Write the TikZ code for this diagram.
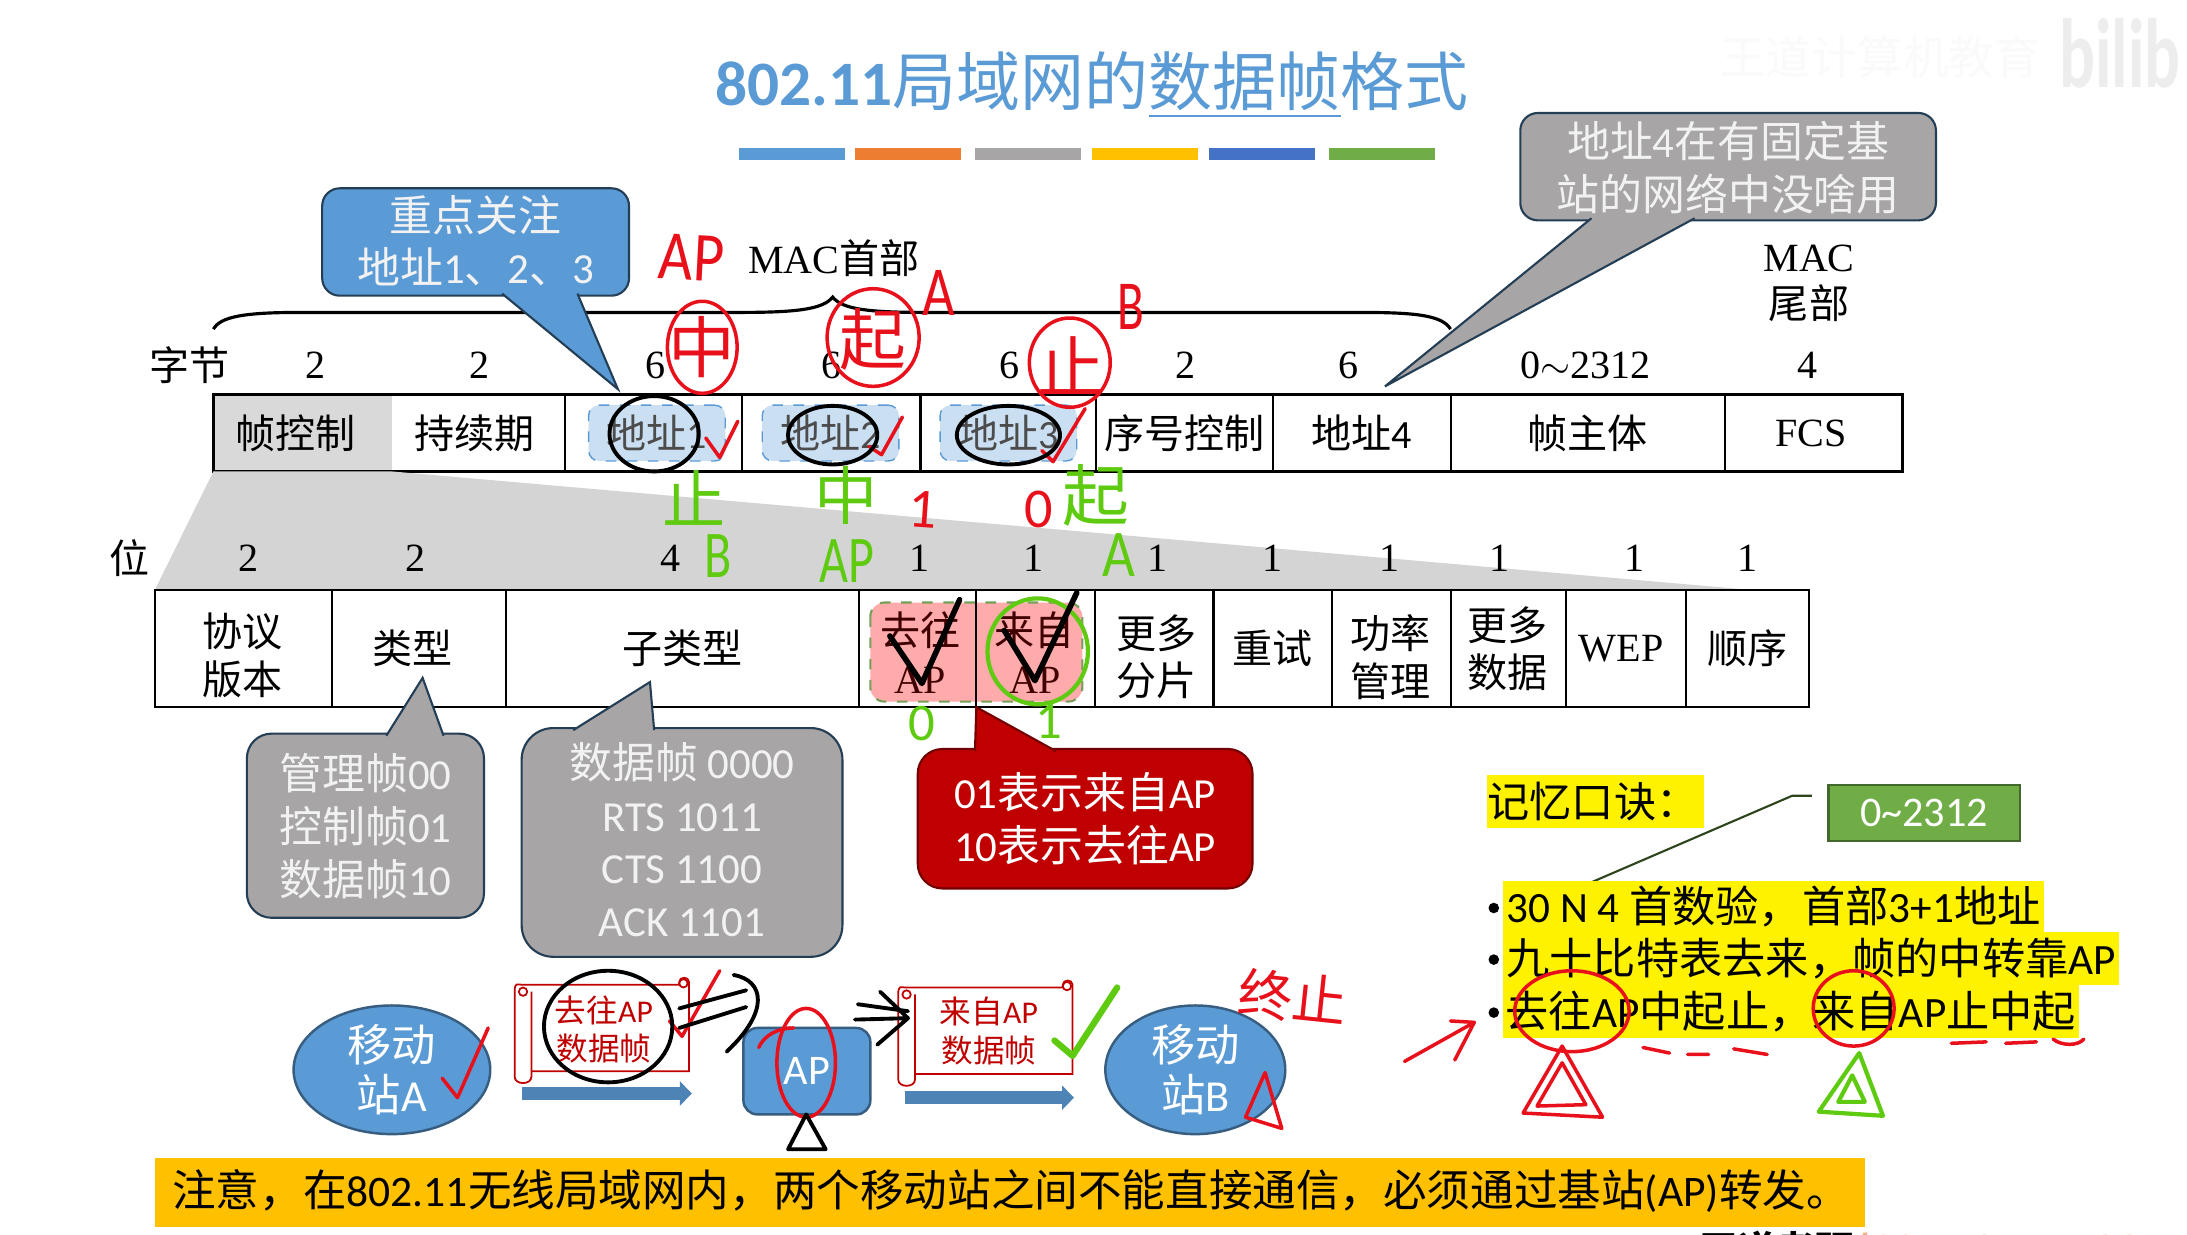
\documentclass[tikz,border=0pt]{standalone}
\usepackage{fontspec}
\setmainfont{Noto Sans CJK SC}
\newfontfamily\tnrfont{Liberation Serif}
\newfontfamily\cbrfont{Carlito}
\newcommand{\tnr}[1]{{\tnrfont #1}}
\newcommand{\cbr}[1]{{\cbrfont #1}}
\newcommand{\fsz}[1]{\fontsize{#1}{#1}\selectfont}
\usetikzlibrary{arrows.meta, shapes.geometric}
\definecolor{ppblue}{HTML}{5B9BD5}
\definecolor{pporange}{HTML}{ED7D31}
\definecolor{ppgray}{HTML}{A7A5A6}
\definecolor{ppgold}{HTML}{FFC000}
\definecolor{ppdeep}{HTML}{4472C4}
\definecolor{ppgreen}{HTML}{70AD47}
\definecolor{ppred}{HTML}{C00000}
\definecolor{hwred}{HTML}{E8111B}
\definecolor{hwgreen}{HTML}{5FCB10}
\newcommand{\ux}{0.01395cm}
\begin{document}
\begin{tikzpicture}[x=0.01395cm, y=-0.01395cm,
    fieldcell/.style={draw, line width=0.6pt, inner sep=0pt, outer sep=0pt, align=center, minimum height=55*\ux, font=\fontsize{11.4}{13.5}\selectfont},
    bitcell/.style={fieldcell, minimum height=84*\ux},
    celltext/.style={inner sep=0pt, align=center, font=\fontsize{11.4}{13.5}\selectfont},
    numlabel/.style={inner sep=0pt, font=\fontsize{11.4}{13}\selectfont\tnrfont},
    addrbox/.style={draw=ppblue, dashed, fill=ppblue!32, rounded corners=3pt, minimum width=98*\ux, minimum height=40*\ux, inner sep=0pt, font=\fontsize{11.4}{13}\selectfont, text=black!70},
    callbody/.style={draw=black!60!ppblue, line width=0.6pt, fill=ppgray, inner sep=0pt},
    calltail/.style={draw=black!60!ppblue, line width=0.6pt, fill=ppgray},
    calltext/.style={inner sep=0pt, align=center, text=white!95!black, font=\fontsize{12.2}{15}\selectfont},
    barstrip/.style={minimum width=76*\ux, minimum height=9*\ux, inner sep=0pt},
    stationnode/.style={ellipse, draw=black!40!ppblue, fill=ppblue, line width=0.7pt, align=center, text=white, inner sep=0pt, font=\fontsize{12.6}{14.3}\selectfont},
    scrolltext/.style={inner sep=0pt, align=center, text=ppred, font=\fontsize{9}{11}\selectfont},
    yellowbar/.style={fill=yellow, inner sep=0pt, anchor=west, font=\fontsize{12.3}{14}\selectfont},
    flowarrow/.style={draw=ppblue!85!black, line width=3.6pt, -{Triangle[length=3.4pt,width=6.8pt]}},
    handred/.style={draw=hwred, line width=1pt, line cap=round, line join=round},
    handgreen/.style={draw=hwgreen, line width=1.2pt, line cap=round, line join=round},
    handblack/.style={draw=black, line width=1.1pt, line cap=round, line join=round},
    hwtext/.style={inner sep=0pt, font=\fontsize{#1}{#1}\selectfont},
    scrollbox/.pic={
        \draw[draw=ppred, line width=0.5pt, fill=white] (6,7) -- (119,7) -- (119,5) .. controls (119,1) and (126,1) .. (126,5) -- (126,69) -- (13,69) -- (13,73) .. controls (13,79) and (1,79) .. (1,73) -- (1,12) .. controls (1,5) and (3,7) .. (6,7) -- cycle;
        \draw[draw=ppred, line width=0.5pt] (13,12) -- (13,69) (7,12) circle [radius=3] (122,6) circle [radius=3];
    }]

    \clip (0,0) rectangle (1568,885);
    \fill[white] (0,0) rectangle (1568,885);

    % 水印
    \node[inner sep=0pt, text=black!2, font=\fontsize{13}{13}\selectfont] (stamp) at (1348,41) {王道计算机教育};
    \node[inner sep=0pt, anchor=west, text=black!7, font=\fontsize{28}{28}\selectfont\bfseries\cbrfont, xscale=0.68, transform shape] (bililogo) at (1476,38) {bilib};

    % 标题
    \node[inner sep=0pt, text=ppblue, font=\fontsize{18.2}{20}\selectfont] (title) at (783,61) {{\cbrfont\bfseries\fsz{18}802.11}局域网的\underline{数据帧}格式};

    % 色条
    \node[barstrip, fill=ppblue] (strip1) at (568,110.5) {};
    \node[barstrip, fill=pporange] (strip2) at (651,110.5) {};
    \node[barstrip, fill=ppgray] (strip3) at (737,110.5) {};
    \node[barstrip, fill=ppgold] (strip4) at (821,110.5) {};
    \node[barstrip, fill=ppdeep] (strip5) at (905,110.5) {};
    \node[barstrip, fill=ppgreen] (strip6) at (991,110.5) {};

    % 第一行字段
    \node[fieldcell, draw=none, fill=black!15, minimum width=128*\ux] (fc) at (217,310.5) {帧控制\hspace*{4pt}};
    \node[fieldcell, draw=none, minimum width=124*\ux] (dur) at (343,310.5) {持续期\hspace*{2.4pt}};
    \node[fieldcell, minimum width=127*\ux] (addr1) at (468.5,310.5) {};
    \node[fieldcell, minimum width=128*\ux] (addr2) at (596,310.5) {};
    \node[fieldcell, minimum width=126*\ux] (addr3) at (723,310.5) {};
    \node[fieldcell, minimum width=127*\ux] (seq) at (849.5,310.5) {序号控制};
    \node[fieldcell, minimum width=127*\ux] (addr4) at (976.5,310.5) {地址\cbr{4}};
    \node[fieldcell, minimum width=197*\ux] (body) at (1138.5,310.5) {帧主体};
    \node[fieldcell, minimum width=127*\ux] (fcs) at (1300.5,310.5) {\hspace*{-1.5pt}\tnr{FCS}};
    \draw[line width=0.8pt] (fc.north west) rectangle (fcs.south east);
    \node[addrbox] (tag1) at (471,310.5) {地址\cbr{1}};
    \node[addrbox] (tag2) at (595.5,310.5) {地址\cbr{2}};
    \node[addrbox] (tag3) at (723,310.5) {地址\cbr{3}};

    % 字节数
    \node[inner sep=0pt, font=\fontsize{11.4}{13}\selectfont] (bytes) at (136,262) {字节};
    \node[numlabel] (b1) at (226,262) {2};
    \node[numlabel] (b2) at (344,262) {2};
    \node[numlabel] (b3) at (470,262) {6};
    \node[numlabel] (b4) at (596,262) {6};
    \node[numlabel] (b5) at (724,262) {6};
    \node[numlabel] (b6) at (850,262) {2};
    \node[numlabel] (b7) at (967,262) {6};
    \node[numlabel] (b8) at (1137,262) {0$\sim$2312};
    \node[numlabel] (b9) at (1296,262) {4};

    % 大括号
    \node[celltext] (machead) at (598,185) {\tnr{MAC}首部};
    \node[celltext] (mactail) at (1297,203) {\tnr{MAC}\\尾部};
    \draw[line width=0.9pt] (153,236) .. controls (158,227) and (175,224) .. (215,224) -- (530,224) .. controls (570,224) and (590,222) .. (597,213) .. controls (604,222) and (624,224) .. (664,224) -- (975,224) .. controls (1015,224) and (1034,226) .. (1040,236);

    % 第二行字段
    \coordinate (wedgeend) at (1256,423);
    \fill[black!17] (fc.south west) -- (fc.south east) -- (wedgeend) -- (111,423) -- cycle;
    \node[bitcell, minimum width=127*\ux] (ver) at (174.5,465) {};
    \node[bitcell, minimum width=125*\ux] (ftype) at (300.5,465) {类型\hspace*{4pt}};
    \node[bitcell, minimum width=253*\ux] (subtype) at (489.5,465) {子类型};
    \node[bitcell, minimum width=84*\ux] (toap) at (658,465) {};
    \node[bitcell, minimum width=85*\ux] (fromap) at (742.5,465) {};
    \node[bitcell, minimum width=85*\ux] (morefrag) at (827.5,465) {};
    \node[bitcell, minimum width=85*\ux] (retry) at (912.5,465) {重试};
    \node[bitcell, minimum width=85*\ux] (power) at (997.5,465) {};
    \node[bitcell, minimum width=83*\ux] (moredata) at (1081.5,465) {};
    \node[bitcell, minimum width=86*\ux] (wep) at (1166,465) {\hspace*{-3pt}\tnr{WEP}};
    \node[bitcell, minimum width=88*\ux] (order) at (1253,465) {顺序};
    \draw[line width=0.7pt] (ver.north west) rectangle (order.south east);
    \node[celltext] (vertext) at (174,470) {协议\\版本};
    \node[celltext] (fragtext) at (829,471) {更多\\分片};
    \node[celltext] (powertext) at (997,471) {功率\\管理};
    \node[celltext] (datatext) at (1081,465) {更多\\数据};
    \draw[draw=ppgreen!70!gray, dashed, fill=red!33, rounded corners=4pt, line width=0.6pt] (624,432) rectangle (776,503);
    \draw[line width=0.6pt] (toap.north east) -- (toap.south east);
    \node[celltext, text=black!75!red] (toaptext) at (660,468) {去往\\\tnr{AP}};
    \node[celltext, text=black!75!red] (fromaptext) at (742,468) {来自\\\tnr{AP}};

    % 位数
    \node[inner sep=0pt, font=\fontsize{11.4}{13}\selectfont] (bits) at (93,400) {位};
    \node[numlabel] (c1) at (178,400) {2};
    \node[numlabel] (c2) at (298,400) {2};
    \node[numlabel] (c3) at (481,400) {4};
    \node[numlabel] (c4) at (659,400) {1};
    \node[numlabel] (c5) at (741,400) {1};
    \node[numlabel] (c6) at (830,400) {1};
    \node[numlabel] (c7) at (912,400) {1};
    \node[numlabel] (c8) at (996,400) {1};
    \node[numlabel] (c9) at (1075,400) {1};
    \node[numlabel] (c10) at (1172,400) {1};
    \node[numlabel] (c11) at (1253,400) {1};

    % 标注框
    \node[callbody, fill=ppblue, rounded corners=5pt, minimum width=220*\ux, minimum height=77*\ux] (bluebox) at (341,173.5) {};
    \draw[calltail, fill=ppblue] (360,210.5) -- (443,279) -- (414,210.5);
    \node[calltext] (keynote) at (341,172.5) {重点关注\\地址\cbr{1}、\cbr{2}、\cbr{3}};
    \node[callbody, rounded corners=5pt, minimum width=298*\ux, minimum height=77*\ux] (graybox) at (1239,119.5) {};
    \draw[calltail] (1141,156.5) -- (993,277) -- (1215,156.5);
    \node[calltext] (addr4note) at (1239,120) {地址\cbr{4}在有固定基\\站的网络中没啥用};
    \node[callbody, rounded corners=7pt, minimum width=170*\ux, minimum height=132*\ux] (typebox) at (262,592) {};
    \draw[calltail] (277,527.5) -- (303,486) -- (318,527.5);
    \node[calltext] (typenote) at (262,592.5) {管理帧\cbr{00}\\控制帧\cbr{01}\\数据帧\cbr{10}};
    \node[callbody, rounded corners=9pt, minimum width=230*\ux, minimum height=164*\ux] (subtypebox) at (489,604) {};
    \draw[calltail] (411,523.5) -- (466,489) -- (469,523.5);
    \node[calltext, font=\fontsize{12.2}{14.9}\selectfont] (subtypenote) at (489,602) {数据帧 \cbr{0000}\\\cbr{RTS 1011}\\\cbr{CTS 1100}\\\cbr{ACK 1101}};
    \node[callbody, fill=ppred, draw=ppred!60!black, rounded corners=7pt, minimum width=240*\ux, minimum height=100*\ux] (redbox) at (778,587) {};
    \draw[calltail, fill=ppred, draw=ppred!60!black] (699,538.5) -- (700,507) -- (757,538.5);
    \node[calltext, text=white, font=\fontsize{12.2}{15}\selectfont] (dsnote) at (778,587) {\cbr{01}表示来自\cbr{AP}\\\cbr{10}表示去往\cbr{AP}};

    % 转发示意
    \node[stationnode, minimum width=141*\ux, minimum height=77*\ux] (stationA) at (281,767) {移动\\站\cbr{A}};
    \node[stationnode, minimum width=129*\ux, minimum height=77*\ux] (stationB) at (857,767) {移动\\站\cbr{B}};
    \node[draw=black!40!ppblue, fill=ppblue, rounded corners=4pt, minimum width=91*\ux, minimum height=62*\ux, text=white, inner sep=0pt, line width=0.7pt, font=\fontsize{12}{14}\selectfont\cbrfont] (apbox) at (578.5,768) {AP};
    \pic at (368,699) {scrollbox};
    \pic at (643,701) {scrollbox};
    \node[scrolltext] (frameto) at (433,738) {去往\cbr{AP}\\数据帧};
    \node[scrolltext] (framefrom) at (709,739) {来自\cbr{AP}\\数据帧};
    \coordinate (arrow1s) at (374,784);
    \coordinate (arrow1e) at (496,784);
    \coordinate (arrow2s) at (649,787);
    \coordinate (arrow2e) at (770,787);
    \draw[flowarrow] (arrow1s) -- (arrow1e);
    \draw[flowarrow] (arrow2s) -- (arrow2e);

    % 注意
    \node[fill=ppgold, minimum width=1226*\ux, minimum height=50*\ux, inner sep=0pt] (notebar) at (724,855) {};
    \node[inner sep=0pt, anchor=west, font=\fontsize{12.4}{14}\selectfont] (notetext) at (123,854) {注意，在\cbr{802.11}无线局域网内，两个移动站之间不能直接通信，必须通过基站\cbr{(AP)}转发。};
    \node[inner sep=0pt, anchor=west, font=\fontsize{11}{13}\selectfont\bfseries] (source) at (1218,897) {王道考研\textcolor{pporange!60}{/CSKAOYAN.COM}};

    % 口诀
    \node[fill=yellow, minimum width=156*\ux, minimum height=38*\ux, inner sep=0pt] (rhymehead) at (1144,575) {};
    \node[inner sep=0pt, anchor=west, font=\fontsize{12}{14}\selectfont] (rhymetext) at (1066,575) {记忆口诀：};
    \node[draw=ppgreen!60!black, fill=ppgreen, minimum width=137*\ux, minimum height=40*\ux, inner sep=0pt, text=white, line width=0.6pt, font=\fontsize{12}{14}\selectfont\cbrfont] (lenbox) at (1379.5,583) {0\textasciitilde 2312};
    \coordinate (leadA) at (1299,570.5);
    \coordinate (leadB) at (1285,570.5);
    \coordinate (leadC) at (1133,636);
    \draw[draw=black!60!ppgreen, line width=0.6pt] (leadA) -- (leadB) -- (leadC);
    \node[yellowbar, minimum width=388*\ux, minimum height=36*\ux] (line1) at (1077,650) {\cbr{30 N 4} 首数验，首部\cbr{3+1}地址};
    \node[yellowbar, minimum width=442*\ux, minimum height=38*\ux] (line2) at (1077,687) {九十比特表去来，帧的中转靠\cbr{AP}};
    \node[yellowbar, minimum width=413*\ux, minimum height=38*\ux] (line3) at (1077,725) {去往\cbr{AP}中起止，来自\cbr{AP}止中起};
    \fill (1071,651) circle [radius=3.8] (1071,688) circle [radius=3.8] (1071,726) circle [radius=3.8];

    % 红色笔迹
    \draw[handred] (503.5,249) ellipse [x radius=25, y radius=33];
    \draw[handred] (626,242) ellipse [x radius=33, y radius=35];
    \draw[handred] (767,260) ellipse [x radius=29, y radius=32];
    \node[hwtext=20, text=hwred, rotate=-3, xscale=0.85, transform shape] (hwap1) at (496,185) {\cbr{AP}};
    \node[hwtext=19, text=hwred] (hwmid1) at (503,249) {中};
    \node[hwtext=19, text=hwred] (hwstart1) at (626,243) {起};
    \node[hwtext=19, text=hwred] (hwstop1) at (768,262) {止};
    \node[hwtext=20, text=hwred, xscale=0.8, transform shape] (hwa1) at (673,210) {\cbr{A}};
    \node[hwtext=20, text=hwred, xscale=0.7, transform shape] (hwb1) at (811,220) {\cbr{B}};
    \node[hwtext=16, text=hwred, rotate=-4] (hwone) at (662,365) {\cbr{1}};
    \node[hwtext=16, text=hwred] (hwzero) at (745,365) {\cbr{0}};
    \node[hwtext=15.5, text=hwred, rotate=-6] (hwend) at (927,715) {终止};
    \draw[handred] (506,314) -- (516,328) -- (529,302);
    \draw[handred] (623,320) -- (632,326) -- (647,299);
    \draw[handred] (747,323) -- (755,331) -- (778,293);
    \draw[handred] (317,773) -- (328,787) -- (350,737);
    \draw[handred] (480,732) -- (489,743) -- (516,696);
    \draw[handred] (578,762) ellipse [x radius=21, y radius=39];
    \draw[handred] (544,751) .. controls (548,742) and (558,737) .. (569,737);
    \draw[handred] (893,801) -- (907,769) -- (919,809) -- cycle;
    \draw[handred] (1007,761) -- (1057,733) (1040,732) -- (1057,733) -- (1043,760);
    \draw[handred] (1127,725) ellipse [x radius=41, y radius=29];
    \draw[handred] (1329,723) ellipse [x radius=29, y radius=27];
    \draw[handred] (1178,751) -- (1197,755) (1210,756) -- (1225,756) (1243,752) -- (1267,756);
    \draw[handred] (1399,748) -- (1424,747) (1438,748) -- (1460,747) (1472,745) .. controls (1478,750) and (1490,750) .. (1494,745);
    \draw[handred] (1120,750) -- (1092,798) -- (1149,801) -- cycle;
    \draw[handred] (1120,762) -- (1102,793) -- (1137,792) -- cycle;

    % 绿色笔迹
    \draw[handgreen] (744,467) ellipse [x radius=36, y radius=38];
    \node[hwtext=18, text=hwgreen] (hwstop2) at (498,357) {止};
    \node[hwtext=19, text=hwgreen, xscale=0.75, transform shape] (hwb2) at (515,399) {\cbr{B}};
    \node[hwtext=18, text=hwgreen] (hwmid2) at (607,355) {中};
    \node[hwtext=19, text=hwgreen, xscale=0.75, transform shape] (hwap2) at (607,402) {\cbr{AP}};
    \node[hwtext=19, text=hwgreen] (hwstart2) at (786,355) {起};
    \node[hwtext=19, text=hwgreen, xscale=0.85, transform shape] (hwa2) at (802,398) {\cbr{A}};
    \node[hwtext=15, text=hwgreen] (hwzero2) at (661,519) {\cbr{0}};
    \node[hwtext=15, text=hwgreen] (hwone2) at (752,517) {\cbr{1}};
    \draw[handgreen, line width=1.8pt] (756,746) -- (769,757) -- (801,708);
    \draw[handgreen] (1333,755) -- (1304,797) -- (1350,800) -- cycle;
    \draw[handgreen] (1328,771) -- (1318,790) -- (1337,790) -- cycle;

    % 黑色笔迹
    \draw[handblack] (469,311) ellipse [x radius=32, y radius=27];
    \draw[handblack] (597,312) ellipse [x radius=32, y radius=21];
    \draw[handblack] (723,312) ellipse [x radius=37, y radius=21];
    \draw[handblack] (436,736) ellipse [x radius=46, y radius=40];
    \draw[handblack, line width=1.6pt] (638,456) -- (661,490) -- (688,430);
    \draw[handblack, line width=1.6pt] (720,452) -- (742,488) -- (772,425);
    \draw[handblack] (487,723) -- (535,710) (487,737) -- (535,722);
    \draw[handblack] (526,699) .. controls (548,703) and (552,725) .. (521,754);
    \draw[handblack] (615,720) -- (651,725) (613,731) -- (651,730) (631,711) -- (651,730) -- (629,749);
    \draw[handblack] (578,799) -- (565,824) -- (592,824) -- cycle;

\end{tikzpicture}
\end{document}
